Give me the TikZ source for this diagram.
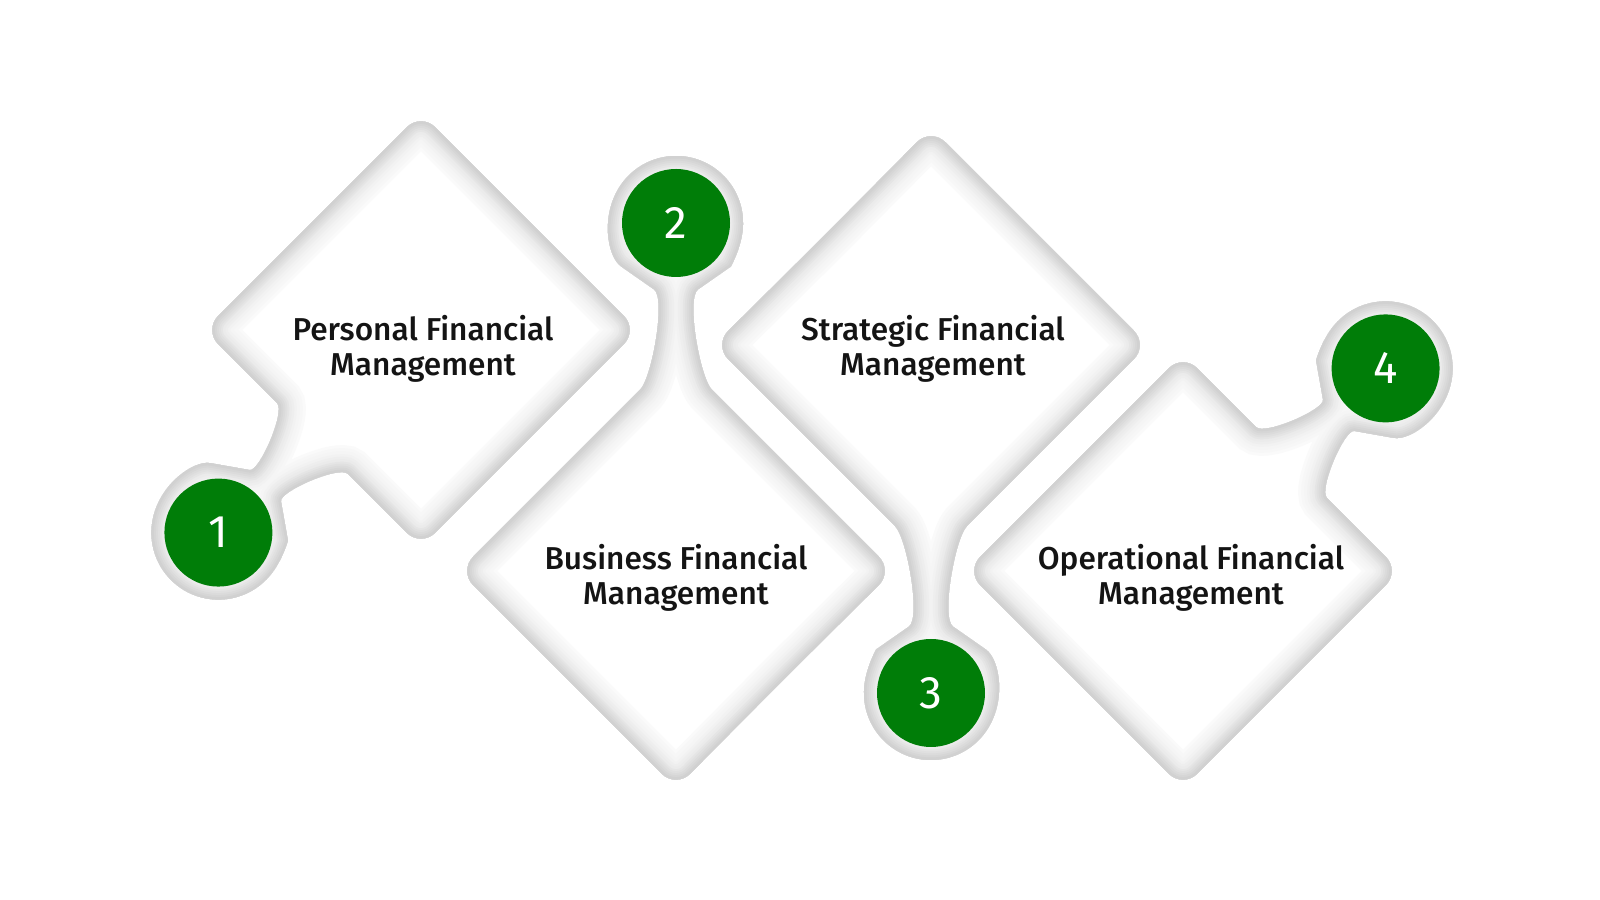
\documentclass[tikz,border=0pt]{standalone}
\usepackage{fontspec}
\setmainfont{Fira Sans}[BoldFont={Fira Sans Medium}]
\definecolor{stepgreen}{RGB}{0,125,8}

% outlines: diamond with a neck on a vertex, and with a neck on an edge
\newcommand\vneck{(108,-108) -- (0,-217) -- (-217,0) -- (-50,167) .. controls (-24,193) and (-9.7,273.1) .. (-38.4,293.1) arc[start angle=235, end angle=-55, radius=67] .. controls (9.7,273.1) and (24,193) .. (50,167) -- (217,0) -- cycle}
\newcommand\eneck{(0,153.4) -- (-153.4,153.4) -- (-153.4,-153.4) -- (-70,-153.4) .. controls (-38,-153.4) and (-13.8,-214.4) .. (-38.4,-231.6) arc[start angle=125, end angle=415, radius=67] .. controls (13.8,-214.4) and (38,-153.4) .. (70,-153.4) -- (153.4,-153.4) -- (153.4,153.4) -- cycle}

\newcommand\carve[2]{%
  \begin{scope}
    \path[clip, rounded corners=2mm, #1] #2;
    \foreach \w/\g in {5.4mm/2, 4.8mm/3, 4.2mm/4, 3.6mm/5, 3.1mm/6.5, 2.6mm/8, 2.1mm/10, 1.7mm/12, 1.3mm/14, 0.9mm/16, 0.5mm/18}
      \draw[black!\g, line width=\w, rounded corners=2mm, xshift=0.15mm, yshift=-0.35mm, #1] #2;
  \end{scope}}

\tikzset{
  lbl/.style={align=center, text=black!92, font=\bfseries\fontsize{9}{10}\selectfont},
  num/.style={circle, fill=stepgreen, minimum size=10.8mm, inner sep=0pt, text=white, font=\fontsize{13}{15}\selectfont}
}

\begin{document}
\begin{tikzpicture}[x=0.1mm, y=0.1mm]
  \useasboundingbox (0,0) rectangle (1600,900);
  \fill[white] (0,0) rectangle (1600,900);

  \coordinate (D1) at (421,570);
  \coordinate (D2) at (676,329);
  \coordinate (D3) at (931,555);
  \coordinate (D4) at (1183,329);

  \carve{shift={(D1)}, rotate=-45}{\eneck}
  \carve{shift={(D2)}}{\vneck}
  \carve{shift={(D3)}, rotate=180}{\vneck}
  \carve{shift={(D4)}, rotate=135}{\eneck}

  \path (D1) ++(-135:286.5) coordinate (r1);
  \path (D2) ++(90:348) coordinate (r2);
  \path (D3) ++(-90:348) coordinate (r3);
  \path (D4) ++(45:286.5) coordinate (r4);

  \node[num] (n1) at (r1) {1};
  \node[num] (n2) at (r2) {2};
  \node[num] (n3) at (r3) {3};
  \node[num] (n4) at (r4) {4};

  \node[lbl] (personal) at (423,551) {Personal Financial\\Management};
  \node[lbl] (business) at (676,322) {Business Financial\\Management};
  \node[lbl] (strategic) at (933,551) {Strategic Financial\\Management};
  \node[lbl] (operational) at (1191,322) {Operational Financial\\Management};
\end{tikzpicture}
\end{document}
